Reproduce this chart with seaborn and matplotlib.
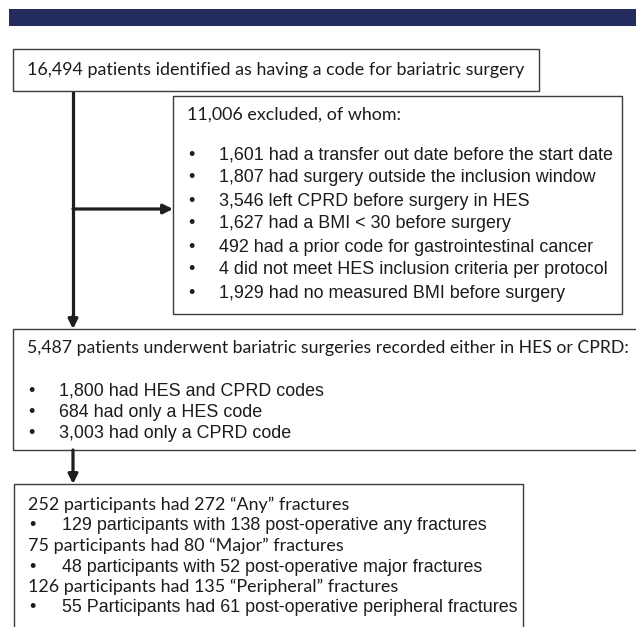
import matplotlib
matplotlib.use('Agg')
import matplotlib.pyplot as plt
from matplotlib.patches import Rectangle
import seaborn as sns

# flow chart content
top_text = "16,494 patients identified as having a code for bariatric surgery"
excl_header = "11,006 excluded, of whom:"
excl_items = [
    "1,601 had a transfer out date before the start date",
    "1,807 had surgery outside the inclusion window",
    "3,546 left CPRD before surgery in HES",
    "1,627 had a BMI < 30 before surgery",
    "492 had a prior code for gastrointestinal cancer",
    "4 did not meet HES inclusion criteria per protocol",
    "1,929 had no measured BMI before surgery",
]
surg_header = "5,487 patients underwent bariatric surgeries recorded either in HES or CPRD:"
surg_items = [
    "1,800 had HES and CPRD codes",
    "684 had only a HES code",
    "3,003 had only a CPRD code",
]
frac_headers = [
    "252 participants had 272 \u201cAny\u201d fractures",
    "75 participants had 80 \u201cMajor\u201d fractures",
    "126 participants had 135 \u201cPeripheral\u201d fractures",
]
frac_items = [
    "129 participants with 138 post-operative any fractures",
    "48 participants with 52 post-operative major fractures",
    "55 Participants had 61 post-operative peripheral fractures",
]

sns.set_theme(style='white')
plt.rcParams['font.family'] = ['Lato', 'DejaVu Sans']

CAL = 'Lato'
ARI = 'Liberation Sans'
CAL_SIZE = 12.9
ARI_SIZE = 12.9
EDGE = '#3c3c3c'
LINE = '#1e1e1e'
TXT = '#1c1c1c'

fig = plt.figure(figsize=(6.36, 6.27), dpi=100)
ax = fig.add_axes([0, 0, 1, 1])
ax.set_xlim(0, 636)
ax.set_ylim(627, 0)
ax.axis('off')

# header band
ax.add_patch(Rectangle((9, 9), 640, 17, facecolor='#242b5d', edgecolor='none'))


def box(x0, y0, x1, y1):
    ax.add_patch(Rectangle((x0, y0), x1 - x0, y1 - y0, facecolor='white',
                           edgecolor=EDGE, linewidth=1.0, zorder=2))


def bullet(y, x_dot, x_text, s):
    ax.text(x_dot, y, '\u2022', fontsize=ARI_SIZE, family=ARI, va='center', ha='center', color=TXT, zorder=3)
    ax.text(x_text, y, s, fontsize=ARI_SIZE, family=ARI, va='center', ha='left', color=TXT, zorder=3)


def arrow(x0, y0, x1, y1):
    ax.annotate('', xy=(x1, y1), xytext=(x0, y0),
                arrowprops=dict(arrowstyle='-|>', color=LINE, lw=2.3, mutation_scale=14,
                                shrinkA=0, shrinkB=0))


# boxes
box(13, 49, 539, 91)
box(173, 96, 622, 314)
box(13, 329, 660, 450)
box(14, 484, 523, 660)

# connectors
ax.plot([73, 73], [91, 318], color=LINE, lw=2.3, solid_capstyle='butt', zorder=1)
arrow(73, 316, 73, 329)
arrow(73, 209, 173, 209)
arrow(73, 450, 73, 484)

# box 1
ax.text(27, 70, top_text, fontsize=CAL_SIZE, family=CAL, va='center', ha='left', color=TXT, zorder=3)

# box 2
ax.text(187, 115, excl_header, fontsize=CAL_SIZE, family=CAL, va='center', ha='left', color=TXT, zorder=3)
for i, s in enumerate(excl_items):
    bullet(155 + 23 * i, 191, 219, s)

# box 3 (header runs up to the right edge of the figure)
ax.text(27, 348, surg_header, fontsize=12.7, family=CAL, va='center', ha='left', color=TXT, zorder=3)
for i, s in enumerate(surg_items):
    bullet(391 + 21.5 * i, 31, 59, s)

# box 4
for i, (h, s) in enumerate(zip(frac_headers, frac_items)):
    y = 505 + 41 * i
    ax.text(28, y, h, fontsize=CAL_SIZE, family=CAL, va='center', ha='left', color=TXT, zorder=3)
    bullet(y + 21, 32, 62, s)

fig.savefig('out.png', dpi=100, facecolor='white')
